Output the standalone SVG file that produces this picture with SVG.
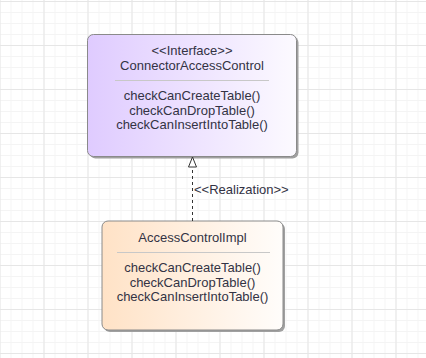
<svg xmlns="http://www.w3.org/2000/svg" width="426" height="358" viewBox="0 0 426 358">
<defs>
<pattern id="minor" x="-0.5" y="1" width="11" height="11" patternUnits="userSpaceOnUse">
<path d="M0 0.5H11M0.5 0V11" fill="none" stroke="#f4f4f4" stroke-width="1"/>
</pattern>
<pattern id="major" x="-0.5" y="1" width="44" height="44" patternUnits="userSpaceOnUse">
<path d="M0 0.5H44M0.5 0V44" fill="none" stroke="#e6e6e6" stroke-width="1"/>
</pattern>
<linearGradient id="gInt" x1="0" y1="0" x2="1" y2="0">
<stop offset="0" stop-color="#dfcbff"/>
<stop offset="1" stop-color="#fcfaff"/>
</linearGradient>
<linearGradient id="gImpl" x1="0" y1="0" x2="1" y2="0">
<stop offset="0" stop-color="#ffe2c6"/>
<stop offset="1" stop-color="#fffdfb"/>
</linearGradient>
<marker id="realize" markerWidth="12" markerHeight="10" refX="11" refY="5" orient="auto" markerUnits="userSpaceOnUse" viewBox="0 0 12 10">
<path d="M1 1 L11 5 L1 9 Z" fill="#ffffff" stroke="#333333" stroke-width="1"/>
</marker>
</defs>
<style>
.box{stroke:#8a8a8a;stroke-width:1}
.shadow{fill:#a0a0a0}
.sep{stroke:#c8c8c8;stroke-width:1}
text{font-family:"Liberation Sans",Arial,sans-serif;font-size:13px;fill:#333344;text-anchor:middle}
.lbl{text-anchor:start}
</style>
<rect width="426" height="358" fill="#ffffff"/>
<rect width="426" height="358" fill="url(#minor)"/>
<rect width="426" height="358" fill="url(#major)"/>
<g id="ConnectorAccessControl">
<rect class="shadow" x="89.5" y="36.5" width="209" height="122" rx="6"/>
<rect class="box" x="87.5" y="34.5" width="209" height="122" rx="6" fill="url(#gInt)"/>
<text x="192" y="55">&lt;&lt;Interface&gt;&gt;</text>
<text x="192" y="69.5">ConnectorAccessControl</text>
<line class="sep" x1="115" y1="80.5" x2="269" y2="80.5"/>
<text x="192" y="100">checkCanCreateTable()</text>
<text x="192" y="114.5">checkCanDropTable()</text>
<text x="192" y="129">checkCanInsertIntoTable()</text>
</g>
<g id="AccessControlImpl">
<rect class="shadow" x="104" y="223" width="181" height="109" rx="6"/>
<rect class="box" x="102" y="221" width="181" height="109" rx="6" fill="url(#gImpl)"/>
<text x="192.5" y="242">AccessControlImpl</text>
<line class="sep" x1="117" y1="252.5" x2="270" y2="252.5"/>
<text x="192.5" y="272">checkCanCreateTable()</text>
<text x="192.5" y="286.5">checkCanDropTable()</text>
<text x="192.5" y="301">checkCanInsertIntoTable()</text>
</g>
<g id="connectors">
<line x1="192.5" y1="221" x2="192.5" y2="157" stroke="#333333" stroke-width="1" stroke-dasharray="3,3" marker-end="url(#realize)"/>
<text class="lbl" x="194" y="194">&lt;&lt;Realization&gt;&gt;</text>
</g>
</svg>
